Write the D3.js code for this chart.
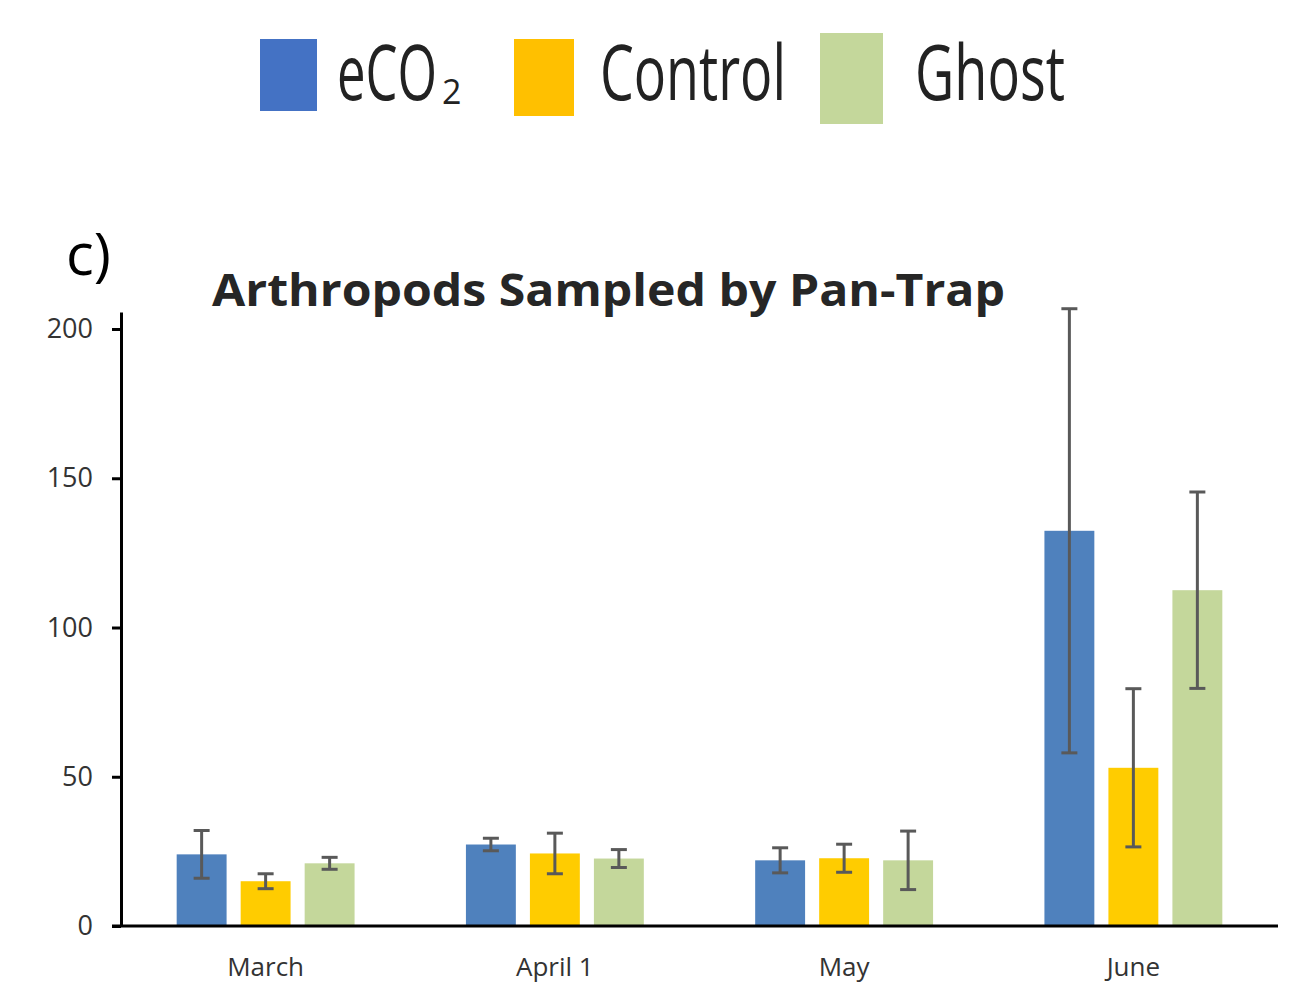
<!DOCTYPE html>
<html>
<head>
<meta charset="utf-8">
<script src="https://cdn.jsdelivr.net/npm/d3@7"></script>
<style>
html,body{margin:0;padding:0;background:#fff;}
svg{display:block;}
</style>
</head>
<body>
<svg id="chart" width="1299" height="993"></svg>
<script>
const categories = ["March", "April 1", "May", "June"];
const seriesNames = ["eCO2", "Control", "Ghost"];
const seriesColors = ["#4F81BD", "#FFCC00", "#C4D79B"];
const eco2Values = [24, 27.3, 22, 132.4];
const controlValues = [15, 24.3, 22.7, 53];
const ghostValues = [21, 22.6, 22, 112.5];
const eco2Errors = [8, 2.1, 4.2, 74.4];
const controlErrors = [2.5, 6.8, 4.7, 26.5];
const ghostErrors = [2, 3, 9.8, 32.9];
const yTicks = [0, 50, 100, 150, 200];

const values = [eco2Values, controlValues, ghostValues];
const errors = [eco2Errors, controlErrors, ghostErrors];

const svg = d3.select("#chart");
const plotLeft = 121, plotRight = 1278, plotBottom = 926, plotTop = 312;

const x = d3.scaleBand().domain(categories).range([plotLeft, plotRight]).paddingInner(0).paddingOuter(0);
const xs = d3.scaleBand().domain(seriesNames).range([0, x.bandwidth()]).paddingInner(0.22).paddingOuter(0.87);
const y = d3.scaleLinear().domain([0, 205.7]).range([plotBottom, plotTop]);

const font = "'Open Sans', 'Noto Sans', sans-serif";

// Legend
const legendItems = [
  {sx: 260, sy: 39, sw: 57, sh: 72, tx: 337, label: "eCO", sub: "2", tw: 100},
  {sx: 514, sy: 39, sw: 60, sh: 77, tx: 600, label: "Control", tw: 186},
  {sx: 820, sy: 33, sw: 63, sh: 91, tx: 915, label: "Ghost", tw: 150}
];
const legendFill = ["#4472C4", "#FFC000", "#C4D79B"];
legendItems.forEach((it, i) => {
  svg.append("rect").attr("x", it.sx).attr("y", it.sy).attr("width", it.sw).attr("height", it.sh)
    .attr("fill", legendFill[i]);
  const lg = svg.append("g");
  const t = lg.append("text").attr("x", 0).attr("y", 0)
    .attr("font-family", font).attr("font-size", 76).attr("fill", "#222").text(it.label);
  const natural = t.node().getComputedTextLength();
  lg.attr("transform", `translate(${it.tx},100) scale(${it.tw / natural},1)`);
  if (it.sub) svg.append("text").attr("x", it.tx + it.tw + 5).attr("y", 104)
    .attr("font-family", font).attr("font-size", 34).attr("fill", "#222").text(it.sub);
});

// Panel label
svg.append("text").attr("x", 66).attr("y", 275).attr("font-family", font).attr("font-size", 58)
  .attr("fill", "#000").text("c)");

// Title
svg.append("text").attr("x", 212).attr("y", 306).attr("font-family", font).attr("font-weight", "bold")
  .attr("font-size", 44).attr("fill", "#262626").attr("textLength", 793).attr("lengthAdjust", "spacingAndGlyphs")
  .text("Arthropods Sampled by Pan-Trap");

// Bars
const g = svg.append("g");
seriesNames.forEach((s, si) => {
  g.selectAll(".bar" + si).data(categories).enter().append("rect")
    .attr("class", "bar" + si)
    .attr("x", c => x(c) + xs(s))
    .attr("width", xs.bandwidth())
    .attr("y", (c, ci) => y(values[si][ci]))
    .attr("height", (c, ci) => y(0) - y(values[si][ci]))
    .attr("fill", seriesColors[si]);
});

// Error bars
seriesNames.forEach((s, si) => {
  categories.forEach((c, ci) => {
    const cx = x(c) + xs(s) + xs.bandwidth() / 2;
    const hi = y(values[si][ci] + errors[si][ci]);
    const lo = y(values[si][ci] - errors[si][ci]);
    const eg = g.append("g").attr("stroke", "#595959").attr("stroke-width", 3);
    eg.append("line").attr("x1", cx).attr("x2", cx).attr("y1", hi).attr("y2", lo);
    eg.append("line").attr("x1", cx - 8).attr("x2", cx + 8).attr("y1", hi).attr("y2", hi);
    eg.append("line").attr("x1", cx - 8).attr("x2", cx + 8).attr("y1", lo).attr("y2", lo);
  });
});

// Y axis
const yAxis = d3.axisLeft(y).tickValues(yTicks).tickSize(9).tickPadding(19).tickSizeOuter(0);
const ya = svg.append("g").attr("transform", `translate(${plotLeft},0)`).call(yAxis);
ya.select(".domain").attr("stroke", "#000").attr("stroke-width", 3);
ya.selectAll(".tick line").attr("stroke", "#000").attr("stroke-width", 3);
ya.selectAll(".tick text").attr("font-family", font).attr("font-size", 27).attr("fill", "#333");

// X axis
const xAxis = d3.axisBottom(x).tickSize(0).tickPadding(32);
const xa = svg.append("g").attr("transform", `translate(0,${plotBottom})`).call(xAxis);
xa.select(".domain").attr("stroke", "#000").attr("stroke-width", 3).attr("d", `M112,0H${plotRight}`);
xa.selectAll(".tick text").attr("font-family", font).attr("font-size", 26).attr("fill", "#333");
</script>
</body>
</html>
